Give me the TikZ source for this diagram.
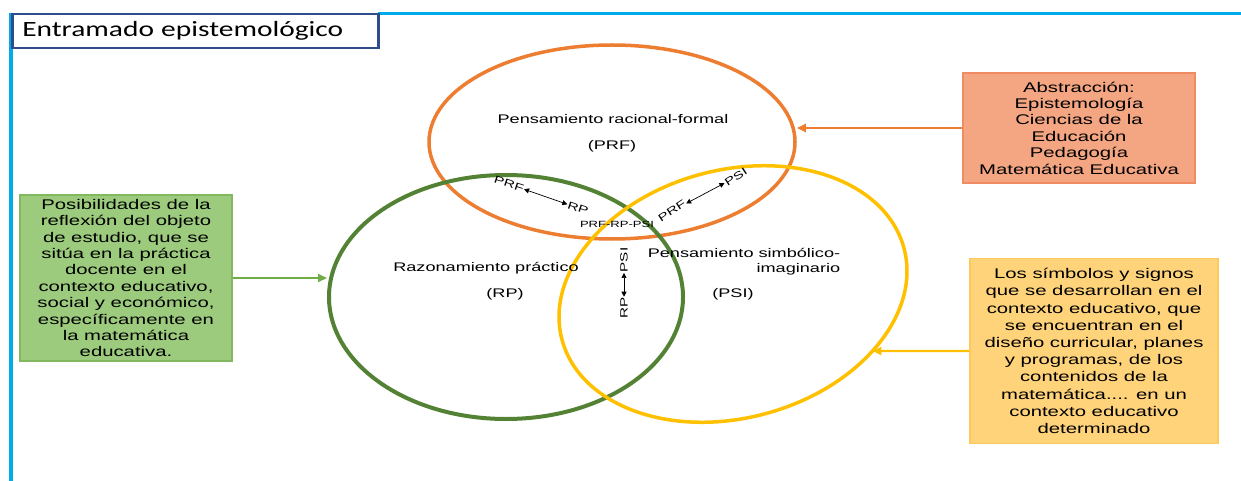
\documentclass[tikz,border=0pt]{standalone}
\usepackage{fontspec}
\setmainfont{Liberation Sans}[FakeStretch=1.45]
\newfontfamily\titlefont{Carlito}[FakeStretch=1.35]
\usetikzlibrary{arrows.meta,shapes.geometric,intersections}

\definecolor{frameblue}{RGB}{0,170,235}
\definecolor{titleblue}{RGB}{47,76,140}
\definecolor{prfcol}{RGB}{237,125,49}
\definecolor{rpcol}{RGB}{84,130,53}
\definecolor{psicol}{RGB}{255,192,0}
\definecolor{greenarrow}{RGB}{112,173,71}
\definecolor{greenfill}{RGB}{157,203,125}
\definecolor{greenedge}{RGB}{130,185,95}
\definecolor{orangefill}{RGB}{244,165,130}
\definecolor{orangeedge}{RGB}{240,140,100}
\definecolor{yellowfill}{RGB}{255,211,122}
\definecolor{yellowedge}{RGB}{255,200,90}

\tikzset{
  circ/.style={ellipse, line width=3.5, inner sep=0},
  infobox/.style={rectangle, line width=1.2, inner sep=0, align=center,
    font=\fontsize{14}{16.4}\selectfont},
  pointer/.style={line width=2.2, -{Triangle[length=9,width=8]}},
  label/.style={font=\fontsize{12.5}{15}\selectfont, inner sep=1},
  tag/.style={font=\fontsize{10.5}{12}\selectfont, inner sep=0.5},
  both/.style={line width=0.7, {Triangle[length=5,width=5]}-{Triangle[length=5,width=5]}},
}

\begin{document}
\begin{tikzpicture}[x=1pt,y=-1pt]
\useasboundingbox (0,0) rectangle (1241,481);

% page frame
\draw[frameblue, line width=4] (10.5,13) -- (10.5,481);
\draw[frameblue, line width=3] (378,13.7) -- (1241,13.7);

% title
\node[draw=titleblue, line width=2.5, fill=white, anchor=north west,
      text width=346, minimum height=34, inner xsep=10, inner ysep=0, align=left,
      font=\titlefont\fontsize{21.8}{24}\selectfont] (title) at (11,13)
      {Entramado epistemológico};

% the three spheres of thought
\node[circ, draw=prfcol, minimum width=366, minimum height=194] (prf) at (612,142) {};
\node[circ, draw=rpcol, line width=4, minimum width=354, minimum height=244] (rp) at (506,297) {};
\node[circ, draw=psicol, rotate=15, name path=psiborder,
      minimum width=354, minimum height=248] (psi) at (733,294) {};

% names inside the spheres
\node[label] (prfname) at (613,119) {Pensamiento racional-formal};
\node[label] (prfabbr) at (612,146) {(PRF)};
\node[label] (rpname) at (486,268) {Razonamiento práctico};
\node[label] (rpabbr) at (505,294) {(RP)};
\node[label, align=right] (psiname) at (744,262) {Pensamiento simbólico-\\imaginario};
\node[label] (psiabbr) at (733,294) {(PSI)};

% pairwise relations
\node[tag, rotate=-18] (a1) at (509,184) {PRF};
\node[tag, rotate=-18] (a2) at (578,208) {RP};
\draw[both] (a1) -- (a2);
\node[tag, rotate=33] (b1) at (672,211) {PRF};
\node[tag, rotate=33] (b2) at (736,177) {PSI};
\draw[both] (b1) -- (b2);
\node[tag, rotate=90] (c1) at (624,308) {RP};
\node[tag, rotate=90] (c2) at (624,260) {PSI};
\draw[both] (c1) -- (c2);
\node[tag, font=\fontsize{9}{11}\selectfont] (center) at (617,224) {PRF-RP-PSI};

% description boxes
\node[infobox, draw=greenedge, fill=greenfill, minimum width=212, minimum height=166]
  (gbox) at (126,278)
  {Posibilidades de la\\reflexión del objeto\\de estudio, que se\\sitúa en la práctica\\docente en el\\contexto educativo,\\social y económico,\\específicamente en\\la matemática\\educativa.};
\node[infobox, draw=orangeedge, fill=orangefill, minimum width=232, minimum height=110]
  (obox) at (1079,128)
  {Abstracción:\\Epistemología\\Ciencias de la\\Educación\\Pedagogía\\Matemática Educativa};
\node[infobox, draw=yellowedge, fill=yellowfill, minimum width=248, minimum height=185,
      font=\fontsize{14}{17.2}\selectfont]
  (ybox) at (1094,351)
  {Los símbolos y signos\\que se desarrollan en el\\contexto educativo, que\\se encuentran en el\\diseño curricular, planes\\y programas, de los\\contenidos de la\\matemática.... en un\\contexto educativo\\determinado};

% pointers from the boxes to the spheres
\draw[pointer, greenarrow] (gbox.east) -- (gbox.east -| rp.west);
\draw[pointer, prfcol] (obox.west) -- (obox.west -| prf.east);
\path[name path=yray] (ybox.west) -- ++(-200,0);
\path[name intersections={of=psiborder and yray, by=psihit}];
\draw[pointer, psicol] (ybox.west) -- (psihit);
\end{tikzpicture}
\end{document}
